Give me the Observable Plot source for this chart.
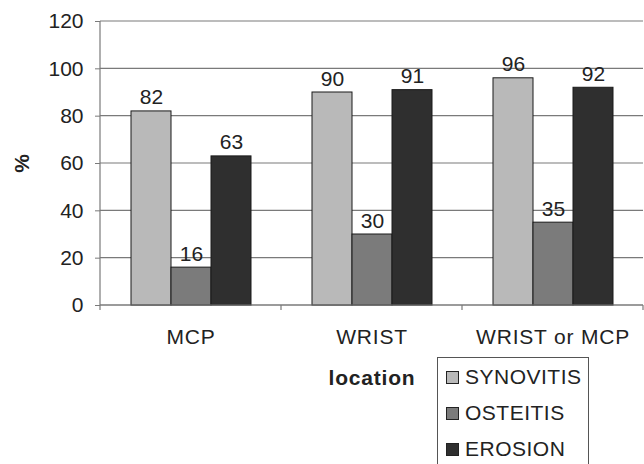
<!DOCTYPE html>
<html>
<head>
<meta charset="utf-8">
<script src="https://cdn.jsdelivr.net/npm/d3@7"></script>
<script src="https://cdn.jsdelivr.net/npm/@observablehq/plot@0.6"></script>
<style>
  html, body { margin: 0; padding: 0; background: #fff; }
  #wrap { position: relative; width: 644px; height: 464px; overflow: hidden; font-family: "Liberation Sans", Arial, sans-serif; }
  #legend { position: absolute; left: 437px; top: 357px; width: 150px; height: 130px; border: 1px solid #555; background: #fff; box-sizing: content-box; }
  .item { position: absolute; left: 8px; display: flex; align-items: center; font-size: 21px; letter-spacing: 0.5px; color: #222; }
  .sw { width: 11px; height: 11px; border: 1px solid #222; margin-right: 6px; }
</style>
</head>
<body>
<div id="wrap"><div id="chart"></div><div id="legend"></div></div>
<script>
const locations = ["MCP", "WRIST", "WRIST or MCP"];
const findings = ["SYNOVITIS", "OSTEITIS", "EROSION"];
const synovitis = [82, 90, 96];
const osteitis = [16, 30, 35];
const erosion = [63, 91, 92];
const colors = ["#b9b9b9", "#7b7b7b", "#2f2f2f"];
const yTicks = [0, 20, 40, 60, 80, 100, 120];

const series = [synovitis, osteitis, erosion];
const data = locations.flatMap((loc, i) =>
  findings.map((f, j) => ({ location: loc, finding: f, value: series[j][i] }))
);

const plot = Plot.plot({
  width: 644,
  height: 464,
  marginTop: 21,
  marginRight: 1,
  marginBottom: 159,
  marginLeft: 100,
  style: { fontFamily: "'Liberation Sans', Arial, sans-serif", fontSize: "21px", color: "#222", background: "transparent" },
  fx: { domain: locations, paddingInner: 0.33, paddingOuter: 0.165 },
  x: { domain: findings, padding: 0, axis: null },
  y: { domain: [0, 120] },
  color: { domain: findings, range: colors },
  marks: [
    Plot.barY(data, { fx: "location", x: "finding", y: "value", fill: "finding", stroke: "#1a1a1a", strokeWidth: 1, inset: 0 }),
    Plot.text(data, { fx: "location", x: "finding", y: "value", text: d => String(d.value), lineAnchor: "bottom", dy: -7, fill: "#222", fontSize: 21 }),
    Plot.axisY(yTicks, { tickSize: 5, tickPadding: 12, stroke: "#7a7a7a", label: "%", labelAnchor: "center", labelArrow: "none", labelOffset: 86 }),
    Plot.axisFx({ anchor: "bottom", tickSize: 0, tickPadding: 24, label: "location", labelAnchor: "center", labelArrow: "none", labelOffset: 79 })
  ]
});
document.getElementById("chart").appendChild(plot);

// Excel-style grid, axis lines and category separator ticks, positioned via Plot's scales
const svg = d3.select(plot);
const fx = plot.scale("fx");
const y = plot.scale("y");
const gap = (fx.step - fx.bandwidth) / 2;
const bounds = fx.domain.map(d => fx.apply(d) - gap).concat([fx.apply(fx.domain[fx.domain.length - 1]) + fx.bandwidth + gap]);
const xL = bounds[0], xR = bounds[bounds.length - 1];
const y0 = y.apply(0), yTop = y.apply(120);
const grid = svg.insert("g", "g").attr("stroke", "#7a7a7a").attr("stroke-width", 1.2);
yTicks.forEach(t => grid.append("line").attr("x1", xL).attr("x2", xR).attr("y1", y.apply(t)).attr("y2", y.apply(t)));
const g = svg.append("g").attr("stroke", "#7a7a7a").attr("stroke-width", 1.2);
g.append("line").attr("x1", xL).attr("x2", xL).attr("y1", yTop).attr("y2", y0);
g.append("line").attr("x1", xL).attr("x2", xR).attr("y1", y0).attr("y2", y0);
bounds.forEach(b => g.append("line").attr("x1", b).attr("x2", b).attr("y1", y0).attr("y2", y0 + 5));

// the y axis is anchored on the first facet; move it to the outer frame edge
svg.selectAll("[aria-label^='y-axis']").each(function () {
  const el = d3.select(this);
  const t = el.attr("transform") || "";
  el.attr("transform", `translate(${-gap},0) ${t}`);
});

// bold axis labels, slightly spaced category labels
svg.selectAll("[aria-label='y-axis label'], [aria-label='fx-axis label']").attr("font-weight", "bold");
svg.selectAll("[aria-label='fx-axis label']").attr("letter-spacing", "0.8px");
svg.selectAll("[aria-label='fx-axis tick label']").attr("letter-spacing", "0.8px");

// legend
const legend = document.getElementById("legend");
findings.forEach((f, i) => {
  const it = document.createElement("div");
  it.className = "item";
  it.style.top = (7 + i * 36) + "px";
  const sw = document.createElement("div");
  sw.className = "sw";
  sw.style.background = colors[i];
  const tx = document.createElement("span");
  tx.textContent = f;
  it.appendChild(sw); it.appendChild(tx);
  legend.appendChild(it);
});
</script>
</body>
</html>
